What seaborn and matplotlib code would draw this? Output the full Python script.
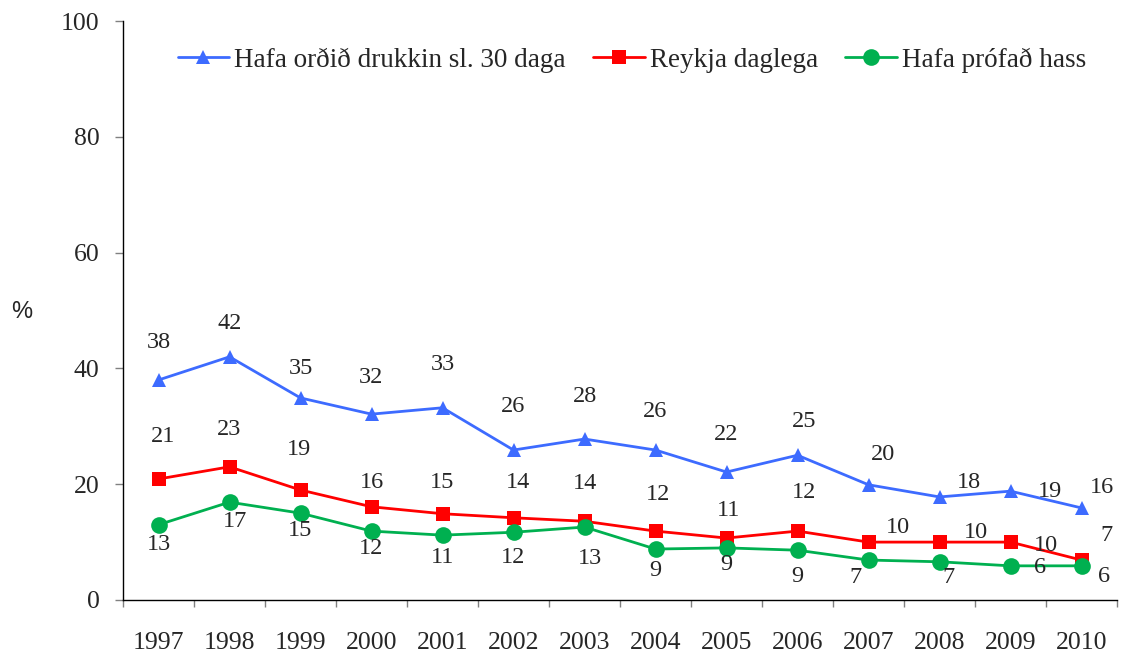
import pandas as pd
import numpy as np
import matplotlib.pyplot as plt
import seaborn as sns

# Data
years = ["1997", "1998", "1999", "2000", "2001", "2002", "2003",
         "2004", "2005", "2006", "2007", "2008", "2009", "2010"]
drukkin = [38.0, 42.0, 34.9, 32.1, 33.2, 25.9, 27.8, 25.9, 22.1, 25.0, 19.9, 17.8, 18.8, 15.9]
reykja = [20.9, 23.0, 19.0, 16.1, 14.9, 14.2, 13.6, 11.9, 10.7, 11.9, 10.0, 10.0, 10.0, 6.9]
hass = [13.0, 16.9, 15.0, 11.9, 11.2, 11.7, 12.6, 8.8, 9.0, 8.6, 6.9, 6.6, 5.9, 5.9]

names = ["Hafa orðið drukkin sl. 30 daga", "Reykja daglega", "Hafa prófað hass"]
colors = ["#3D6BFF", "#FF0000", "#00B050"]
markers = ["^", "s", "o"]
msizes = [10.5, 10, 12]

# label offsets in pixels (dx, dy; dy positive = up), as placed in the original
off_blue = [(0, 37), (0, 33), (0, 29), (0, 37), (0, 43), (0, 44), (0, 43), (0, 39),
            (0, 38), (7, 34), (14, 30), (29, 14), (39, 0), (20, 20)]
off_red = [(5, 42), (0, 37), (-2, 40), (0, 24), (0, 31), (4, 35), (0, 38), (3, 37),
           (2, 28), (7, 39), (29, 15), (36, 10), (35, -3), (25, 25)]
off_green = [(0, -20), (6, -19), (0, -17), (0, -17), (0, -22), (0, -25), (5, -31), (0, -21),
             (0, -17), (0, -26), (-13, -17), (9, -16), (30, -2), (23, -11)]

df = pd.DataFrame({"year": years, names[0]: drukkin, names[1]: reykja, names[2]: hass})
long = df.melt(id_vars="year", var_name="hopur", value_name="pct")

sns.set_style("white")
plt.rcParams["font.family"] = ["Liberation Serif", "DejaVu Serif"]

fig = plt.figure(figsize=(11.21, 6.55), dpi=100)
ax = fig.add_axes([123 / 1121, 55 / 655, 994 / 1121, 579 / 655])

for name, col, mk, ms, offs in zip(names, colors, markers, msizes,
                                   [off_blue, off_red, off_green]):
    sub = long[long["hopur"] == name]
    sns.lineplot(data=sub, x="year", y="pct", ax=ax, color=col, marker=mk,
                 markersize=ms, markeredgewidth=0, linewidth=2, label=name, sort=False)
    for i, (y, v) in enumerate(zip(sub["year"], sub["pct"])):
        dx, dy = offs[i]
        ax.annotate(f"{v:.0f}", (i, v), xytext=(dx * 0.72, dy * 0.72),
                    textcoords="offset points", ha="center", va="center", fontsize=17.5)

ax.set_xlim(-0.5, len(years) - 0.5)
ax.set_ylim(0, 100)
ax.set_yticks(range(0, 101, 20))
ax.set_xticks(range(len(years)))
ax.set_xticklabels(years)
ax.set_xticks(np.arange(-0.5, len(years), 1), minor=True)
ax.tick_params(axis="x", which="major", length=0, pad=23, labelsize=18.5)
ax.tick_params(axis="x", which="minor", length=5, width=1, color="#808080", direction="out", bottom=True)
ax.tick_params(axis="y", length=5.8, width=1, color="#808080", direction="out", left=True,
               labelsize=18.5, pad=11)
ax.set_xlabel("")
ax.set_ylabel("")
for s in ["top", "right"]:
    ax.spines[s].set_visible(False)
for s in ["left", "bottom"]:
    ax.spines[s].set_color("black")
    ax.spines[s].set_linewidth(1)

fig.text(22 / 1121, 1 - 312 / 655, "%", family="Liberation Sans", fontsize=17,
         ha="center", va="center")

ax.legend(loc="center", bbox_to_anchor=(0.512, 1 - 39 / 579), ncol=3, frameon=False,
          fontsize=19.5, handlelength=1.9, handletextpad=0.2, columnspacing=1.0)

plt.savefig("out.png", dpi=100)
